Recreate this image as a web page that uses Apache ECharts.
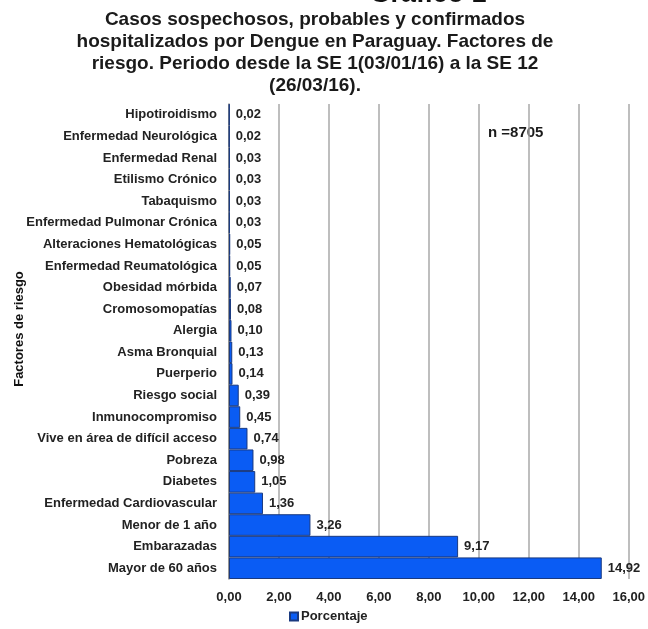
<!DOCTYPE html>
<html>
<head>
<meta charset="utf-8">
<script src="https://cdn.jsdelivr.net/npm/echarts@6/dist/echarts.min.js"></script>
<style>
  html, body { margin: 0; padding: 0; background: #fff; }
  #chart { width: 648px; height: 629px; }
</style>
</head>
<body>
<div id="chart"></div>
<script>
// Risk factors, listed top to bottom as drawn
const factores = [
  'Hipotiroidismo',
  'Enfermedad Neurológica',
  'Enfermedad Renal',
  'Etilismo Crónico',
  'Tabaquismo',
  'Enfermedad Pulmonar Crónica',
  'Alteraciones Hematológicas',
  'Enfermedad Reumatológica',
  'Obesidad mórbida',
  'Cromosomopatías',
  'Alergia',
  'Asma Bronquial',
  'Puerperio',
  'Riesgo social',
  'Inmunocompromiso',
  'Vive en área de difícil acceso',
  'Pobreza',
  'Diabetes',
  'Enfermedad Cardiovascular',
  'Menor de 1 año',
  'Embarazadas',
  'Mayor de 60 años'
];

// Percentage of hospitalised cases per factor
const porcentaje = [
  0.02, 0.02, 0.03, 0.03, 0.03, 0.03, 0.05, 0.05, 0.07, 0.08, 0.10,
  0.13, 0.14, 0.39, 0.45, 0.74, 0.98, 1.05, 1.36, 3.26, 9.17, 14.92
];

const tituloLineas = [
  'Casos sospechosos, probables y confirmados',
  'hospitalizados por Dengue en Paraguay. Factores de',
  'riesgo. Periodo desde la SE 1(03/01/16) a la SE 12',
  '(26/03/16).'
];

const fmt = v => v.toFixed(2).replace('.', ',');
const FONT = '"Liberation Sans", Arial, sans-serif';

const chart = echarts.init(document.getElementById('chart'));
chart.setOption({
  animation: false,
  textStyle: { fontFamily: FONT },
  title: [
    {
      text: 'Gráfico 1',
      left: 423, top: -24, textAlign: 'center',
      textStyle: { fontSize: 27, fontWeight: 'bold', color: '#111', fontFamily: FONT }
    },
    {
      text: tituloLineas.join('\n'),
      left: 310, top: 4, textAlign: 'center',
      textStyle: { fontSize: 19, fontWeight: 'bold', color: '#1a1a1a', lineHeight: 22, fontFamily: FONT }
    }
  ],
  graphic: [
    {
      type: 'text', left: 488, top: 125,
      style: { text: 'n =8705', font: 'bold 15px ' + FONT, fill: '#1a1a1a' }
    },
    {
      type: 'text', x: 19, y: 329, rotation: Math.PI / 2,
      style: {
        text: 'Factores de riesgo', font: 'bold 13px ' + FONT, fill: '#111',
        textAlign: 'center', textVerticalAlign: 'middle'
      }
    }
  ],
  legend: {
    bottom: 1, left: 284,
    itemWidth: 8, itemHeight: 8, itemGap: 4,
    icon: 'rect',
    textStyle: { fontSize: 13, fontWeight: 'bold', color: '#222', fontFamily: FONT, padding: [0, 0, 0, -2] },
    data: ['Porcentaje']
  },
  grid: { left: 229, right: 18, top: 104, bottom: 50, containLabel: false },
  xAxis: {
    type: 'value', min: 0, max: 16, interval: 2,
    axisLine: { show: false },
    axisTick: { show: false },
    splitLine: { show: true, lineStyle: { color: '#a8a8a8', width: 1.5 } },
    axisLabel: {
      formatter: fmt, margin: 12,
      fontSize: 13, fontWeight: 'bold', color: '#222', fontFamily: FONT
    }
  },
  yAxis: {
    type: 'category', data: factores, inverse: true,
    axisLine: { show: true, lineStyle: { color: '#8a8a8a', width: 1.5 } },
    axisTick: { show: false },
    axisLabel: {
      margin: 12, fontSize: 13, fontWeight: 'bold', color: '#222', fontFamily: FONT
    }
  },
  series: [{
    name: 'Porcentaje',
    type: 'bar',
    data: porcentaje,
    barCategoryGap: 0,
    itemStyle: { color: '#0a5cf4', borderColor: '#1a3a80', borderWidth: 1 },
    label: {
      show: true, position: 'right', distance: 6,
      formatter: p => fmt(p.value),
      fontSize: 13, fontWeight: 'bold', color: '#222', fontFamily: FONT
    }
  }]
});
</script>
</body>
</html>
